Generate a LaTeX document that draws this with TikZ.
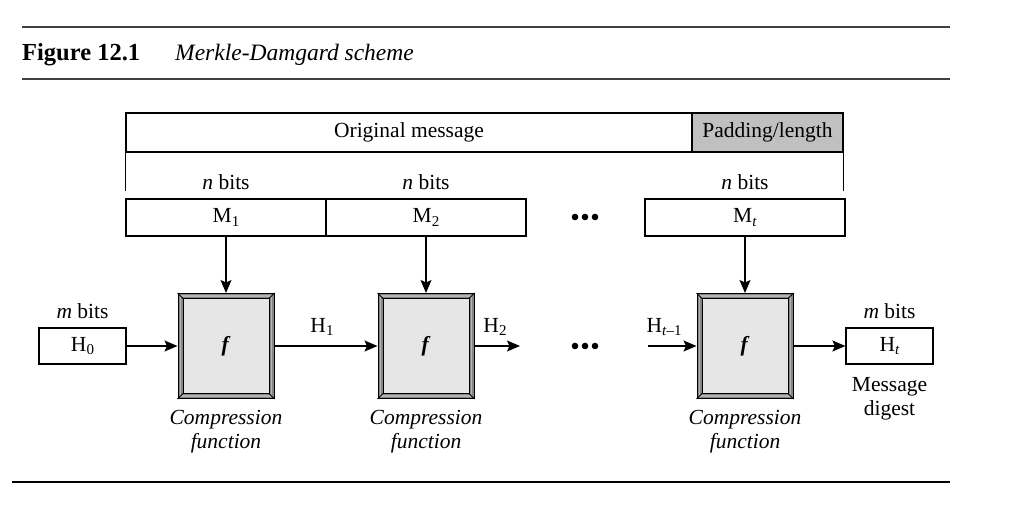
\documentclass[tikz,border=0pt]{standalone}
\usepackage{fontspec}
\setmainfont{Liberation Serif}
\usetikzlibrary{arrows.meta}
\definecolor{padgray}{HTML}{C0C0C0}
\definecolor{framegray}{HTML}{858585}
\definecolor{framelight}{HTML}{B4B4B4}
\definecolor{innergray}{HTML}{E6E6E6}
\newcommand\subs[1]{\raisebox{-0.38ex}{\fontsize{15}{15}\selectfont #1}}
\tikzset{
  dfont/.style={font=\fontsize{21.5}{24}\selectfont},
  box/.style={draw, line width=1.2pt, inner sep=0pt, dfont, text height=14.5pt, text depth=4.5pt},
  lbl/.style={inner sep=0pt, dfont},
  fouter/.style={draw, line width=1pt, fill=framegray, minimum width=96pt, minimum height=105pt, inner sep=0pt},
  arr/.style={line width=1.3pt, -{Stealth[length=13pt,width=11pt,inset=2.5pt]}},
  ln/.style={line width=1.2pt},
}
\newcommand\compbox[3]{%
  \node[fouter] (#1) at (#2,#3) {};
  \draw[framelight, line width=1.2pt] ([shift={(3pt,-3pt)}]#1.north west) rectangle ([shift={(-3pt,3pt)}]#1.south east);
  \draw[line width=0.8pt, fill=innergray] ([shift={(5.5pt,-5.5pt)}]#1.north west) rectangle ([shift={(-5.5pt,5.5pt)}]#1.south east);
  \draw[line width=0.8pt] (#1.north west) -- ([shift={(5.5pt,-5.5pt)}]#1.north west)
     (#1.north east) -- ([shift={(-5.5pt,-5.5pt)}]#1.north east)
     (#1.south west) -- ([shift={(5.5pt,5.5pt)}]#1.south west)
     (#1.south east) -- ([shift={(-5.5pt,5.5pt)}]#1.south east);
  \node[lbl] at (#1) {\textbf{\textit{f}}};
  \node[lbl, anchor=north, align=center] (#1lab) at ([yshift=-11pt]#1.south) {\textit{Compression}\\\textit{function}};
}
\begin{document}
\begin{tikzpicture}[x=1pt,y=-1pt]
\useasboundingbox (0,0) rectangle (1028,516);
% header rules
\draw[line width=2pt, black!75] (22,27) -- (950,27);
\draw[line width=2pt, black!75] (22,79) -- (950,79);
\draw[line width=2.2pt, black] (12,482) -- (950,482);
\node[anchor=base west, inner sep=0pt, font=\bfseries\fontsize{24.5}{28}\selectfont] (fig) at (22,61) {Figure 12.1};
\node[anchor=base west, inner sep=0pt, font=\itshape\fontsize{23.5}{28}\selectfont] (cap) at (175,61) {Merkle-Damgard scheme};

% message bar
\node[box, minimum width=566pt, minimum height=39pt] (orig) at (409,132.5) {Original message};
\node[box, fill=padgray, minimum width=151pt, minimum height=39pt] (pad) at (767.5,132.5) {Padding/length};
\draw[ln] (orig.south west) -- ++(0,38);
\draw[ln] (pad.south east) -- ++(0,38);

% message blocks
\node[box, minimum width=200pt, minimum height=37pt] (M1) at (226,217.5) {M\subs{1}};
\node[box, minimum width=200pt, minimum height=37pt] (M2) at (426,217.5) {M\subs{2}};
\node[box, minimum width=200pt, minimum height=37pt] (Mt) at (745,217.5) {M\subs{\textit{t}}};
\node[lbl, anchor=south] (n1) at ([yshift=8pt]M1.north) {\textit{n} bits};
\node[lbl, anchor=south] (n2) at ([yshift=8pt]M2.north) {\textit{n} bits};
\node[lbl, anchor=south] (nt) at ([yshift=8pt]Mt.north) {\textit{n} bits};
\foreach \x in {575,585,595} \fill (\x,217) circle (3.3pt);

% compression functions
\compbox{f1}{226}{346}
\compbox{f2}{426}{346}
\compbox{f3}{745}{346}

\draw[arr] (M1.south) -- (f1.north);
\draw[arr] (M2.south) -- (f2.north);
\draw[arr] (Mt.south) -- (f3.north);

% chaining values
\node[box, minimum width=87pt, minimum height=36pt] (H0) at (82.5,346) {H\subs{0}};
\node[lbl, anchor=south] (m0) at ([yshift=8pt]H0.north) {\textit{m} bits};
\node[box, minimum width=87pt, minimum height=36pt] (Ht) at (889.5,346) {H\subs{\textit{t}}};
\node[lbl, anchor=south] (mt) at ([yshift=8pt]Ht.north) {\textit{m} bits};
\node[lbl, anchor=north, align=center] (md) at ([yshift=-13pt]Ht.south) {Message\\digest};

\coordinate (h2end) at (520,346);
\coordinate (htstart) at (648,346);
\draw[arr] (H0.east) -- (f1.west);
\draw[arr] (f1.east) -- (f2.west);
\draw[arr] (f2.east) -- (h2end);
\draw[arr] (htstart) -- (f3.west);
\draw[arr] (f3.east) -- (Ht.west);
\node[lbl, anchor=base] (H1) at (322,332) {H\subs{1}};
\node[lbl, anchor=base] (H2) at (495,332) {H\subs{2}};
\node[lbl, anchor=base] (Htm) at (664,332) {H\subs{\textit{t}–1}};
\foreach \x in {575,585,595} \fill (\x,346) circle (3.3pt);
\end{tikzpicture}
\end{document}
